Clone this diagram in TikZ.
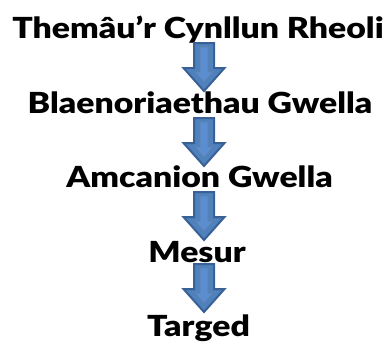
\documentclass[tikz,border=0pt]{standalone}
\usepackage{fontspec}
\setmainfont{Lato Black}[FakeStretch=1.165]
\usetikzlibrary{calc}
\definecolor{arrowfill}{HTML}{4F81BD}
\definecolor{arrowedge}{HTML}{3A6196}
\definecolor{arrowlight}{HTML}{5A8ED0}
\tikzset{
  label/.style={anchor=base, inner sep=0pt, font=\fontsize{29}{29}\selectfont, text=black},
  arrowbody/.style={fill=arrowfill, draw=arrowedge, line width=2pt, line join=miter},
  arrowinner/.style={fill=arrowlight, draw=arrowedge!80, line width=0.6pt, line join=miter},
  downarrow/.pic={
    \path[arrowbody] (-10,0) -- (10,0) -- (10,25) -- (20.5,25) -- (0,48) -- (-20.5,25) -- (-10,25) -- cycle;
    \path[arrowinner] (-4,4) -- (4,4) -- (4,29) -- (9,29) -- (0,39) -- (-9,29) -- (-4,29) -- cycle;
  }
}
\begin{document}
\begin{tikzpicture}[x=1pt,y=-1pt]
\useasboundingbox (0,0) rectangle (387,341);
\node[label] (t1) at (198,38) {Themâu’r Cynllun Rheoli};
\node[label] (t2) at (200,113) {Blaenoriaethau Gwella};
\node[label] (t3) at (199.5,187) {Amcanion Gwella};
\node[label] (t4) at (197,262) {Mesur};
\node[label] (t5) at (198.5,336) {Targed};
\path ($(t1.base)+(6,5)$) pic {downarrow};
\path ($(t2.base)+(4,5)$) pic {downarrow};
\path ($(t3.base)+(4.5,5)$) pic {downarrow};
\path ($(t4.base)+(7,2)$) pic {downarrow};
\end{tikzpicture}
\end{document}
